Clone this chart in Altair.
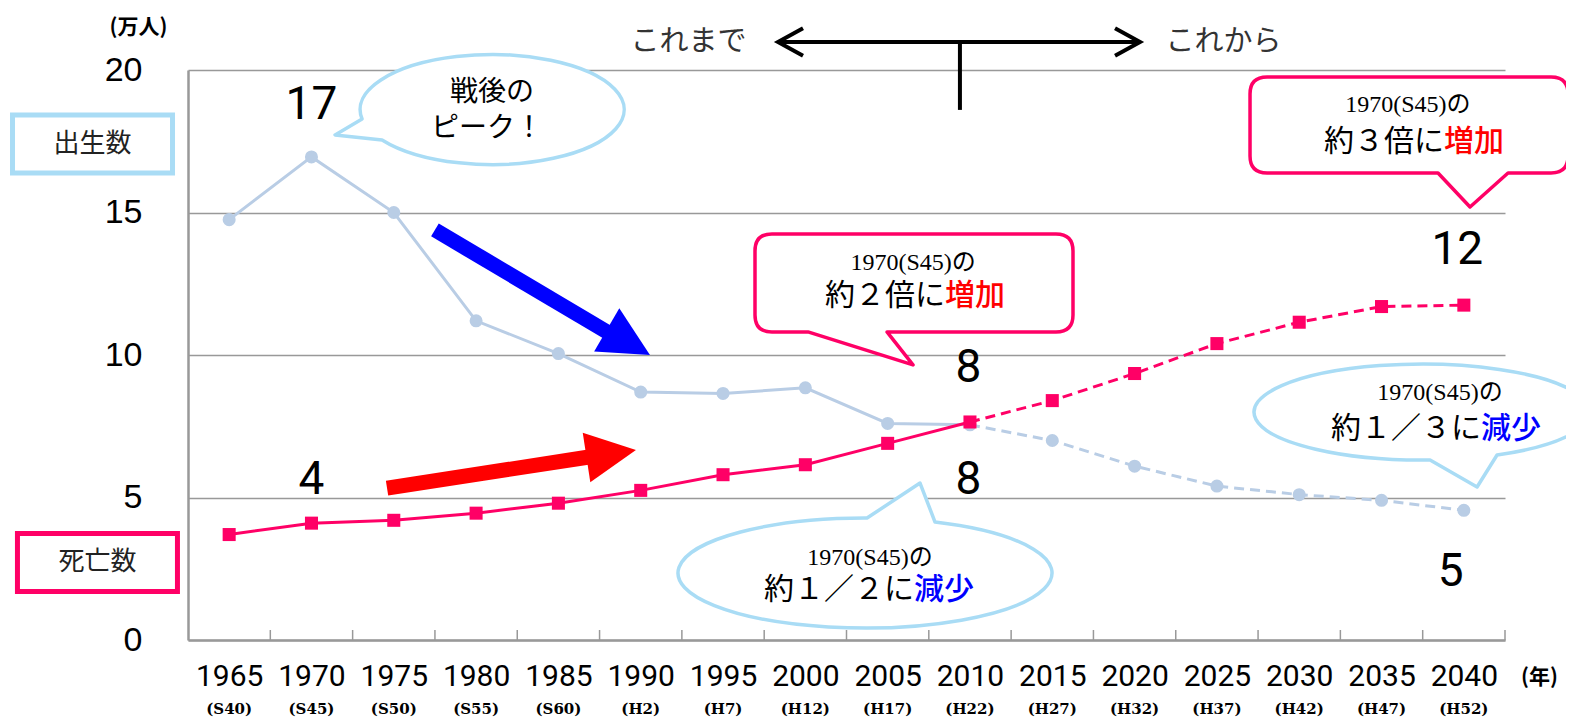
import altair as alt
import pandas as pd

# ---------------- data ----------------
years = [1965, 1970, 1975, 1980, 1985, 1990, 1995, 2000, 2005, 2010,
         2015, 2020, 2025, 2030, 2035, 2040]
era_labels = ["(S40)", "(S45)", "(S50)", "(S55)", "(S60)", "(H2)", "(H7)", "(H12)",
              "(H17)", "(H22)", "(H27)", "(H32)", "(H37)", "(H42)", "(H47)", "(H52)"]
births = [14.75, 16.95, 15.0, 11.2, 10.05, 8.7, 8.65, 8.85, 7.6, 7.55,
          7.0, 6.1, 5.4, 5.1, 4.9, 4.55]
deaths = [3.7, 4.1, 4.2, 4.45, 4.8, 5.25, 5.8, 6.15, 6.9, 7.65,
          8.4, 9.35, 10.4, 11.15, 11.7, 11.75]
projection_start = 2010
y_ticks = [0, 5, 10, 15, 20]
band_edges = [1967.5 + 5 * i for i in range(16)]

value_label_text = ["17", "4", "8", "8", "12", "5"]
value_label_x = [1970.0, 1970.0, 2009.9, 2009.9, 2039.6, 2039.2]
value_label_y = [18.77, 5.61, 9.54, 5.61, 13.68, 2.39]

# annotation anchors (year, value)
box_text = ["出生数", "死亡数"]
box_x = [1956.7, 1957.0]
box_y = [17.40, 2.72]

peak_text = ["戦後の", "ピーク！"]
peak_x = [1980.97, 1980.67]
peak_y = [19.18, 17.92]
peak_anchor = (1980.97, 18.67)

bubble_sub = ["1970(S45)の", "1970(S45)の", "1970(S45)の", "1970(S45)の"]
bubble_sub_x = [2006.55, 2036.6, 2003.93, 2038.55]
bubble_sub_y = [13.24, 18.78, 2.89, 8.68]
bubble_main = ["約２倍に", "約３倍に", "約１／２に", "約１／３に"]
bubble_main_y = [12.06, 17.49, 1.77, 7.42]
bubble_split_x = [2008.48, 2038.79, 2006.6, 2041.04]
bubble_verb = ["増加", "増加", "減少", "減少"]
bubble_verb_color = ["#ff0000", "#ff0000", "#0000ff", "#0000ff"]
bubble_b_anchor = (2006.60, 12.53)
bubble_c_anchor = (2036.67, 18.07)
bubble_d_anchor = (2003.99, 2.35)
bubble_e_anchor = (2037.34, 8.00)

blue_arrow = {"x": [1977.50, 1987.95], "y": [14.39, 10.81], "tip": (1990.56, 10.0), "angle": 30.2}
red_arrow = {"x": [1974.59, 1986.86], "y": [5.33, 6.42], "tip": (1989.71, 6.67), "angle": 351.3}

timeline_text = ["これまで", "これから"]
timeline_text_x = [1992.9, 2025.4]
timeline_y = 20.98
timeline_x = [1998.34, 2020.33]
timeline_split_x = 2009.39
timeline_split_y2 = 18.6

# ---------------- styles ----------------
JP = "Noto Sans CJK JP"
BLUE_LINE = "#b9cde5"
PINK = "#ff0066"
LIGHT_BLUE = "#a9dcf5"
GRID = "#999999"

ARROW_HEAD = "M0,0L-1,-0.5L-1,0.5Z"
CHEV_L = "M1,-0.55L0,0L1,0.55"
CHEV_R = "M-1,-0.55L0,0L-1,0.55"
BOX = "M-80,-29H80V29H-80Z"
BUBBLE_A = "M-130,11L-157,27L-110,32A132,55 0 1,0 -130,11Z"
BUBBLE_B = ("M-142,-49H142Q159,-49 159,-32V32Q159,49 142,49H-27L-1,82L-106,49"
            "H-142Q-159,49 -159,32V-32Q-159,-49 -142,-49Z")
BUBBLE_C = ("M-142,-48H142Q159,-48 159,-31V31Q159,48 142,48H99L61,82L29,48"
            "H-142Q-159,48 -159,31V-31Q-159,-48 -142,-48Z")
BUBBLE_D = "M-4,-55L49,-90L64,-51A187,55 0 1,1 -4,-55Z"
BUBBLE_E = "M77,43L57,75L10,48A168,48 0 1,1 77,43Z"

xscale = alt.Scale(domain=[1962.5, 2042.5], nice=False, zero=False)
yscale = alt.Scale(domain=[0, 20], nice=False, zero=False)
xaxis = alt.Axis(values=years, format="d", labelFont="Roboto", labelFontSize=30,
                 labelColor="#000000", labelPadding=36, labelBaseline="middle",
                 labelFlush=False, labelOverlap=False, ticks=False, grid=False,
                 domainColor=GRID, domainWidth=2.5, titleX=1351, titleY=37,
                 titleAlign="center", titleBaseline="middle", titleFont=JP,
                 titleFontSize=21, titleFontWeight="bold", titleColor="#000000")
yaxis = alt.Axis(values=y_ticks, labelFont="Liberation Sans", labelFontSize=34,
                 labelColor="#000000", labelPadding=46, ticks=False, grid=True,
                 gridColor=GRID, gridWidth=1.5, domainColor=GRID, domainWidth=2.5,
                 titleAngle=0, titleX=-50, titleY=-43, titleAlign="center",
                 titleBaseline="middle", titleFont=JP, titleFontSize=21,
                 titleFontWeight="bold", titleColor="#000000")


def pos(**extra):
    d = dict(x=alt.X("x:Q", scale=xscale, axis=xaxis, title="(年)"),
             y=alt.Y("y:Q", scale=yscale, axis=yaxis, title="(万人)"))
    d.update(extra)
    return d


def pts(xs, ys, **cols):
    d = {"x": list(xs), "y": list(ys)}
    d.update(cols)
    return pd.DataFrame(d)


df_b = pts(years, births)
df_d = pts(years, deaths)
past_b = df_b[df_b.x <= projection_start]
fut_b = df_b[df_b.x >= projection_start]
past_d = df_d[df_d.x <= projection_start]
fut_d = df_d[df_d.x >= projection_start]

layers = []

# inward tick marks at band edges
layers.append(alt.Chart(pts(band_edges, [0] * len(band_edges), y2=[0.35] * len(band_edges)))
              .mark_rule(color=GRID, strokeWidth=1.5).encode(**pos(y2="y2:Q")))

# era labels
layers.append(alt.Chart(pts(years, [-2.43] * len(years), t=era_labels))
              .mark_text(font="DejaVu Serif", fontWeight="bold", fontSize=15, color="#000")
              .encode(**pos(text="t:N")))


def bubble(anchor, shape, stroke):
    return (alt.Chart(pts([anchor[0]], [anchor[1]]))
            .mark_point(shape=shape, size=4, filled=True, fill="white", stroke=stroke,
                        strokeWidth=3.5, opacity=1, fillOpacity=1, strokeJoin="round")
            .encode(**pos()))


layers.append(bubble(peak_anchor, BUBBLE_A, LIGHT_BLUE))
layers.append(bubble(bubble_b_anchor, BUBBLE_B, PINK))
layers.append(bubble(bubble_c_anchor, BUBBLE_C, PINK))
layers.append(bubble(bubble_d_anchor, BUBBLE_D, LIGHT_BLUE))
layers.append(bubble(bubble_e_anchor, BUBBLE_E, LIGHT_BLUE))

# side boxes
for i, col in enumerate([LIGHT_BLUE, PINK]):
    layers.append(alt.Chart(pts([box_x[i]], [box_y[i]]))
                  .mark_point(shape=BOX, size=4, filled=True, fill="white", stroke=col,
                              strokeWidth=5, opacity=1)
                  .encode(**pos()))
layers.append(alt.Chart(pts(box_x, box_y, t=box_text))
              .mark_text(font=JP, fontSize=26, color="#222")
              .encode(**pos(text="t:N")))

# series
layers.append(alt.Chart(past_b).mark_line(color=BLUE_LINE, strokeWidth=3).encode(**pos()))
layers.append(alt.Chart(fut_b).mark_line(color=BLUE_LINE, strokeWidth=3, strokeDash=[10, 6]).encode(**pos()))
layers.append(alt.Chart(df_b).mark_point(shape="circle", size=170, filled=True, color=BLUE_LINE, opacity=1).encode(**pos()))
layers.append(alt.Chart(past_d).mark_line(color=PINK, strokeWidth=3).encode(**pos()))
layers.append(alt.Chart(fut_d).mark_line(color=PINK, strokeWidth=3, strokeDash=[10, 6]).encode(**pos()))
layers.append(alt.Chart(df_d).mark_point(shape="square", size=170, filled=True, color=PINK, opacity=1).encode(**pos()))

# arrows
for arr, col in [(blue_arrow, "#0000ff"), (red_arrow, "#ff0000")]:
    layers.append(alt.Chart(pts(arr["x"], arr["y"])).mark_line(color=col, strokeWidth=15, strokeCap="butt").encode(**pos()))
    layers.append(alt.Chart(pts([arr["tip"][0]], [arr["tip"][1]]))
                  .mark_point(shape=ARROW_HEAD, size=10000, angle=arr["angle"], filled=True,
                              color=col, opacity=1, strokeWidth=0)
                  .encode(**pos()))

# timeline at top
layers.append(alt.Chart(pts([timeline_x[0]], [timeline_y], x2=[timeline_x[1]]))
              .mark_rule(color="#000", strokeWidth=4).encode(**pos(x2="x2:Q")))
layers.append(alt.Chart(pts([timeline_split_x], [timeline_y], y2=[timeline_split_y2]))
              .mark_rule(color="#000", strokeWidth=4).encode(**pos(y2="y2:Q")))
for sx, shp in [(timeline_x[0], CHEV_L), (timeline_x[1], CHEV_R)]:
    layers.append(alt.Chart(pts([sx], [timeline_y]))
                  .mark_point(shape=shp, size=2500, filled=False, stroke="#000", strokeWidth=4,
                              opacity=1, strokeJoin="miter")
                  .encode(**pos()))
layers.append(alt.Chart(pts(timeline_text_x, [timeline_y] * 2, t=timeline_text))
              .mark_text(font=JP, fontSize=29, color="#333")
              .encode(**pos(text="t:N")))

# value labels
layers.append(alt.Chart(pts(value_label_x, value_label_y, t=value_label_text))
              .mark_text(font="Roboto", fontSize=46, color="#000")
              .encode(**pos(text="t:N")))

# bubble texts
layers.append(alt.Chart(pts(peak_x, peak_y, t=peak_text))
              .mark_text(font=JP, fontSize=28, color="#000")
              .encode(**pos(text="t:N")))
layers.append(alt.Chart(pts(bubble_sub_x, bubble_sub_y, t=bubble_sub))
              .mark_text(font="'Liberation Serif', 'Noto Sans CJK JP'", fontSize=24, color="#000")
              .encode(**pos(text="t:N")))
layers.append(alt.Chart(pts(bubble_split_x, bubble_main_y, t=bubble_main))
              .mark_text(font=JP, fontSize=30, color="#000", align="right")
              .encode(**pos(text="t:N")))
layers.append(alt.Chart(pts(bubble_split_x, bubble_main_y, t=bubble_verb, c=bubble_verb_color))
              .mark_text(font=JP, fontSize=30, align="left", fontWeight=500)
              .encode(**pos(text="t:N", color=alt.Color("c:N", scale=None))))

chart = (alt.layer(*layers)
         .properties(width=1317, height=570,
                     autosize=alt.AutoSizeParams(type="none"),
                     padding={"left": 180, "top": 62, "right": 61, "bottom": 78},
                     background="white")
         .configure_view(strokeWidth=0))

chart.save("out.html", embed_options={"renderer": "svg", "actions": False})
